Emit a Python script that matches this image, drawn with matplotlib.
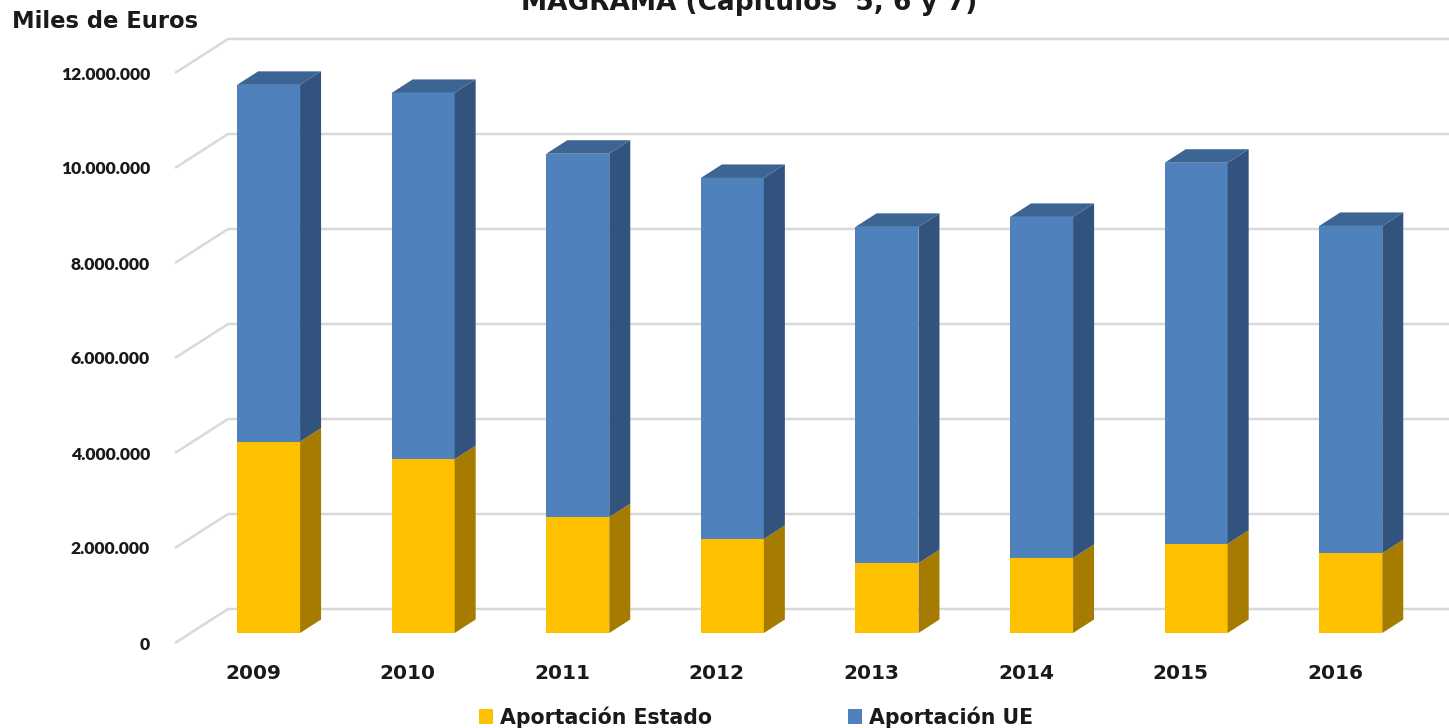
import matplotlib
matplotlib.use("Agg")
import matplotlib.pyplot as plt
from matplotlib.patches import Polygon, Patch

# data (miles de euros, in millions for plotting)
years = ["2009", "2010", "2011", "2012", "2013", "2014", "2015", "2016"]
estado = [4.03, 3.66, 2.44, 1.98, 1.47, 1.58, 1.88, 1.68]
ue = [7.51, 7.71, 7.65, 7.60, 7.08, 7.18, 8.02, 6.89]
yticks = [0, 2, 4, 6, 8, 10, 12]
ytick_labels = ["0", "2.000.000", "4.000.000", "6.000.000", "8.000.000", "10.000.000", "12.000.000"]

yellow, yellow_side = "#FFC000", "#A67C00"
blue, blue_side, blue_top = "#4F81BD", "#32537D", "#3C6594"
grid_col = "#D9D9D9"

W, H = 1449, 728
fig = plt.figure(figsize=(W / 100, H / 100), dpi=100)

# axes geometry in pixels -> front plane
left_px, bottom_px = 175, 643
px_per_x, px_per_y = 154.6, 47.5
xmin = -0.505
xmax = xmin + (W - left_px) / px_per_x
ymax = 12.8
ax = fig.add_axes([left_px / W, (H - bottom_px) / H, (W - left_px) / W, ymax * px_per_y / H])
ax.set_xlim(xmin, xmax)
ax.set_ylim(0, ymax)

# perspective offsets (pixels converted to data units)
ddx, ddy = 53 / px_per_x, 34 / px_per_y       # floor depth
bx, by = 15.5 / px_per_x, 10 / px_per_y       # bar front offset
sdx, sdy = 21 / px_per_x, 13.5 / px_per_y     # bar depth
bw = 63 / px_per_x

# back wall gridlines
for v in yticks:
    ax.plot([xmin, xmin + ddx, xmax], [v, v + ddy, v + ddy], color=grid_col, lw=1.8,
            zorder=1, clip_on=False, solid_capstyle="butt")

# bars
for i in range(len(years)):
    L = i + bx - bw / 2
    R = L + bw
    segs = [(0, estado[i], yellow, yellow_side), (estado[i], estado[i] + ue[i], blue, blue_side)]
    for y0, y1, c, cs in segs:
        ax.bar(L, y1 - y0, width=bw, bottom=by + y0, align="edge", color=c, zorder=3, lw=0)
        side = [(R, by + y0), (R + sdx, by + y0 + sdy), (R + sdx, by + y1 + sdy), (R, by + y1)]
        ax.add_patch(Polygon(side, closed=True, facecolor=cs, lw=0, zorder=3))
    top = estado[i] + ue[i] + by
    ax.add_patch(Polygon([(L, top), (L + sdx, top + sdy), (R + sdx, top + sdy), (R, top)],
                         closed=True, facecolor=blue_top, lw=0, zorder=3))

for s in ax.spines.values():
    s.set_visible(False)
ax.set_yticks(yticks)
ax.set_yticklabels(ytick_labels, family="Lato", fontweight="heavy", fontsize=12.6, color="#1a1a1a")
ax.set_xticks(range(len(years)))
ax.set_xticklabels(years, family="DejaVu Sans", fontweight="bold", fontsize=14.5, color="#1a1a1a")
ax.tick_params(axis="y", length=0, pad=18)
ax.tick_params(axis="x", length=0, pad=15)

fig.text(12 / W, (H - 22) / H, "Miles de Euros", ha="left", va="center",
         fontsize=16.3, fontweight="bold", color="#1a1a1a")
fig.text(749 / W, (H - 10) / H, "MAGRAMA (Capítulos  5, 6 y 7)", ha="center", va="baseline",
         fontsize=19, fontweight="bold", color="#1a1a1a")

handles = [Patch(facecolor=yellow, label="Aportación Estado"),
           Patch(facecolor=blue, label="Aportación UE")]
fig.legend(handles=handles, loc="center", bbox_to_anchor=(756 / W, 11 / H), ncol=2,
           frameon=False, prop={"family": "DejaVu Sans", "weight": "bold", "size": 14.8},
           handlelength=0.7, handleheight=0.7, handletextpad=0.35, columnspacing=6.6,
           labelcolor="#1a1a1a")

fig.savefig("out.png", dpi=100)
